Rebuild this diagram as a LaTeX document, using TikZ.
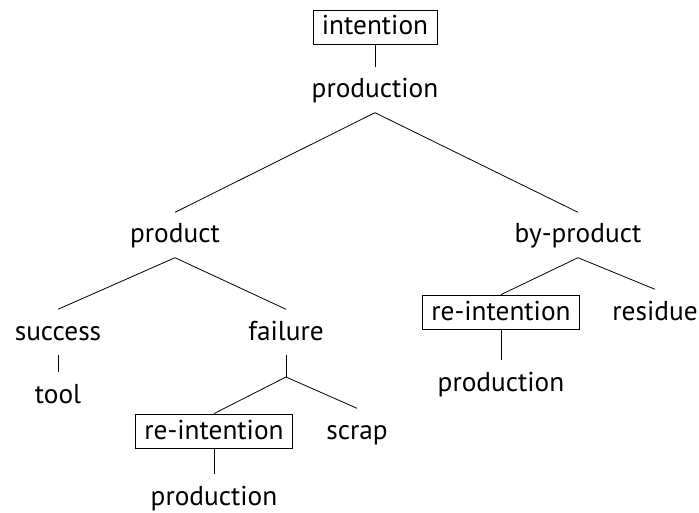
\documentclass[tikz,border=0pt]{standalone}
\usepackage{fontspec}
\setmainfont{PT Sans}
\begin{document}
\begin{tikzpicture}[x=1pt,y=-1pt,
  lbl/.style={font=\fontsize{27.3}{30}\selectfont, inner xsep=0pt, inner ysep=8.5pt, text height=22pt, text depth=6pt},
  boxed/.style={draw, line width=0.8pt, font=\fontsize{27.3}{30}\selectfont, inner xsep=9pt, inner ysep=5pt, text height=20pt, text depth=4pt},
  edge/.style={line width=0.8pt}]
\useasboundingbox (0,0) rectangle (699,513);
\node[boxed] (int) at (375,27) {intention};
\node[lbl] (prod) at (375,90) {production};
\node[lbl] (product) at (175,235) {product};
\node[lbl] (byp) at (578,235) {by-product};
\node[lbl] (succ) at (58,332) {success};
\node[lbl] (fail) at (286,332) {failure};
\node[lbl] (tool) at (58,395) {tool};
\node[boxed] (rei1) at (214,431) {re-intention};
\node[lbl] (scrap) at (357,431) {scrap};
\node[lbl] (prod1) at (214,497) {production};
\node[boxed] (rei2) at (501,312) {re-intention};
\node[lbl] (res) at (655,312) {residue};
\node[lbl] (prod2) at (501,383) {production};
\coordinate (fj) at (286,377);
\draw[edge] (int.south) -- (prod.north);
\draw[edge] (product.north) -- (prod.south) -- (byp.north);
\draw[edge] (succ.north) -- (product.south) -- (fail.north);
\draw[edge] (succ.south) -- (tool.north);
\draw[edge] (fail.south) -- (fj);
\draw[edge] (rei1.north) -- (fj) -- (scrap.north);
\draw[edge] (rei1.south) -- (prod1.north);
\draw[edge] (rei2.north) -- (byp.south) -- (res.north);
\draw[edge] (rei2.south) -- (prod2.north);
\end{tikzpicture}
\end{document}
